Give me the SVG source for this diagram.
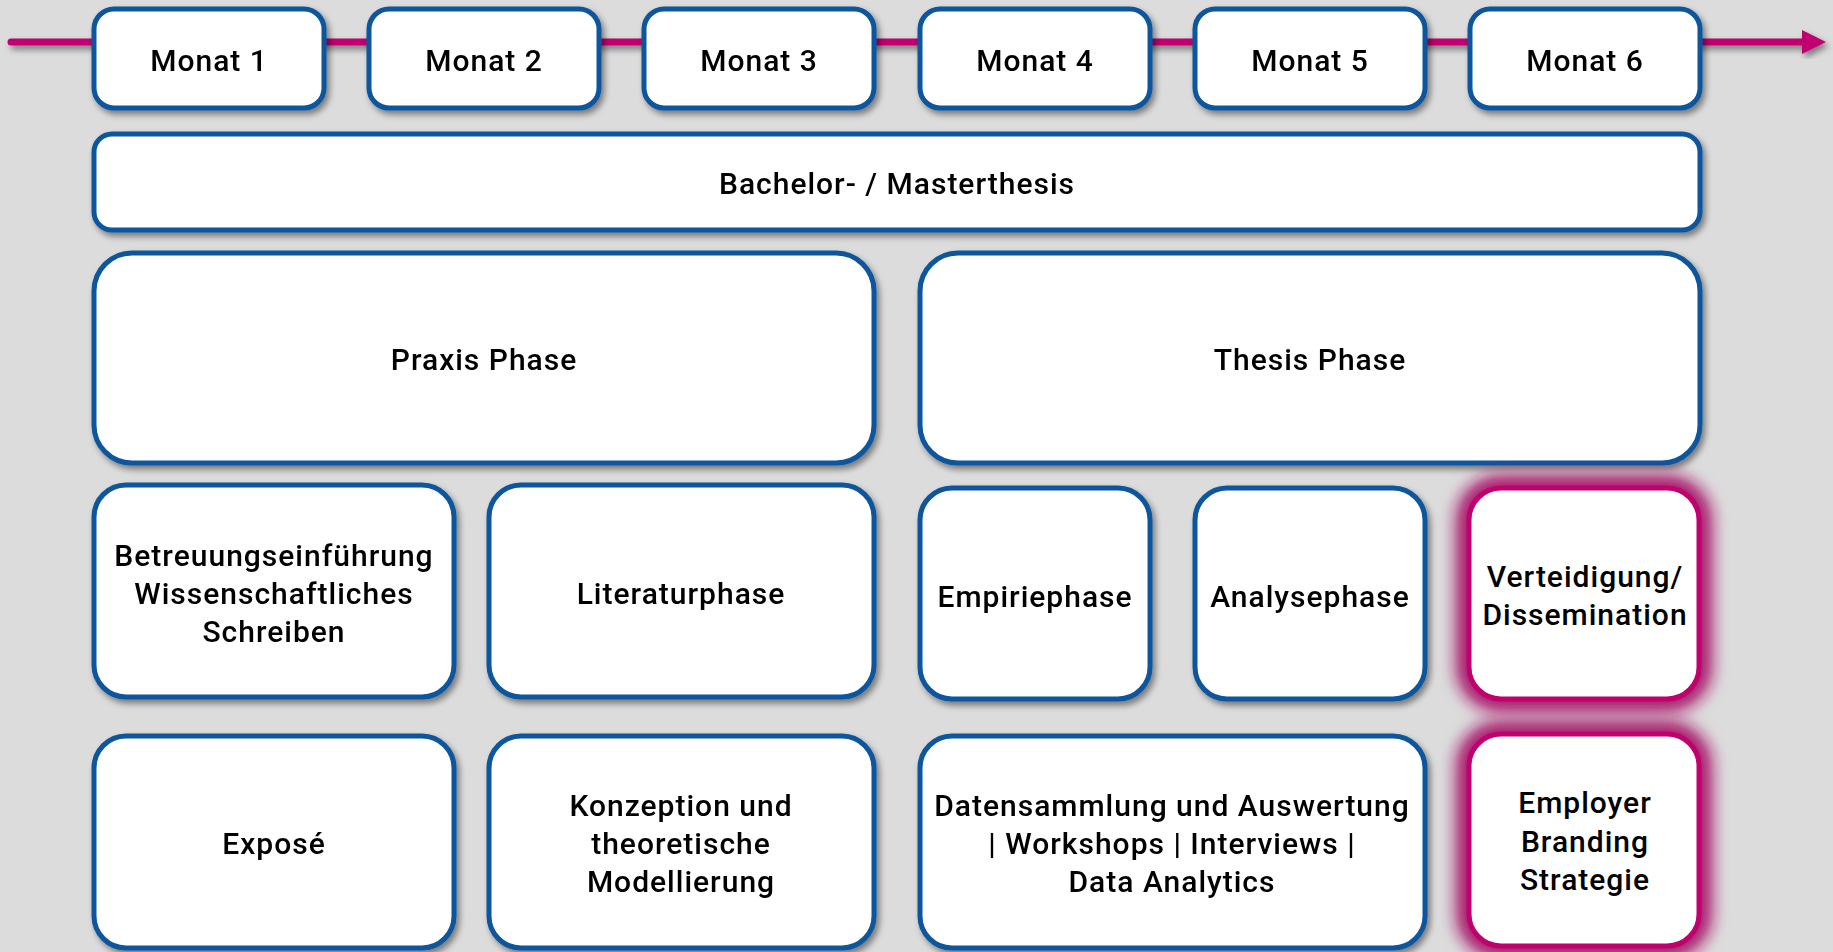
<svg xmlns="http://www.w3.org/2000/svg" width="1833" height="952" viewBox="0 0 1833 952">
<defs>
<filter id="sh" x="-10%" y="-10%" width="125%" height="130%">
<feDropShadow dx="3" dy="4" stdDeviation="3" flood-color="#000" flood-opacity="0.45"/>
</filter>
<filter id="glow" x="-30%" y="-30%" width="160%" height="160%">
<feGaussianBlur stdDeviation="8"/>
</filter>
<style>
.b{fill:#fff;stroke:#0b569d;stroke-width:5}
.p{fill:#fff;stroke:#c0006f;stroke-width:5}
.g{fill:none;stroke:#a8126a;stroke-width:26}
text{font-family:Roboto,"Liberation Sans",sans-serif;font-size:30px;font-weight:500;fill:#000;text-anchor:middle;letter-spacing:1px}
</style>
</defs>
<rect width="1833" height="952" fill="#dcdcdc"/>
<g id="connectors" filter="url(#sh)">
<line x1="11" y1="42" x2="1804" y2="42" stroke="#c0006f" stroke-width="7" stroke-linecap="round"/>
<polygon points="1802,30 1826,42 1802,54" fill="#c0006f"/>
</g>
<g id="m1" filter="url(#sh)"><rect class="b" x="94" y="9" width="230" height="99" rx="20"/><text x="209" y="71">Monat 1</text></g>
<g id="m2" filter="url(#sh)"><rect class="b" x="369" y="9" width="230" height="99" rx="20"/><text x="484" y="71">Monat 2</text></g>
<g id="m3" filter="url(#sh)"><rect class="b" x="644" y="9" width="230" height="99" rx="20"/><text x="759" y="71">Monat 3</text></g>
<g id="m4" filter="url(#sh)"><rect class="b" x="920" y="9" width="230" height="99" rx="20"/><text x="1035" y="71">Monat 4</text></g>
<g id="m5" filter="url(#sh)"><rect class="b" x="1195" y="9" width="230" height="99" rx="20"/><text x="1310" y="71">Monat 5</text></g>
<g id="m6" filter="url(#sh)"><rect class="b" x="1470" y="9" width="230" height="99" rx="20"/><text x="1585" y="71">Monat 6</text></g>
<g id="thesis" filter="url(#sh)"><rect class="b" x="94" y="134" width="1606" height="96" rx="18"/><text x="897" y="194">Bachelor- / Masterthesis</text></g>
<g id="praxis" filter="url(#sh)"><rect class="b" x="94" y="253" width="780" height="210" rx="38"/><text x="484" y="370">Praxis Phase</text></g>
<g id="thesisphase" filter="url(#sh)"><rect class="b" x="920" y="253" width="780" height="210" rx="38"/><text x="1310" y="370">Thesis Phase</text></g>
<g id="betreuung" filter="url(#sh)"><rect class="b" x="94" y="485" width="360" height="212" rx="32"/><text x="274" y="566">Betreuungseinführung</text><text x="274" y="604">Wissenschaftliches</text><text x="274" y="642">Schreiben</text></g>
<g id="literatur" filter="url(#sh)"><rect class="b" x="489" y="485" width="385" height="212" rx="32"/><text x="681" y="604">Literaturphase</text></g>
<g id="empirie" filter="url(#sh)"><rect class="b" x="920" y="488" width="230" height="211" rx="32"/><text x="1035" y="607">Empiriephase</text></g>
<g id="analyse" filter="url(#sh)"><rect class="b" x="1195" y="488" width="230" height="211" rx="32"/><text x="1310" y="607">Analysephase</text></g>
<g id="verteidigung"><rect class="g" x="1469" y="488" width="230" height="211" rx="32" filter="url(#glow)"/><rect class="p" x="1469" y="488" width="230" height="211" rx="32"/><text x="1585" y="587">Verteidigung/</text><text x="1585" y="625">Dissemination</text></g>
<g id="expose" filter="url(#sh)"><rect class="b" x="94" y="736" width="360" height="212" rx="32"/><text x="274" y="854">Exposé</text></g>
<g id="konzeption" filter="url(#sh)"><rect class="b" x="489" y="736" width="385" height="212" rx="32"/><text x="681" y="816">Konzeption und</text><text x="681" y="854">theoretische</text><text x="681" y="892">Modellierung</text></g>
<g id="daten" filter="url(#sh)"><rect class="b" x="920" y="736" width="505" height="212" rx="32"/><text x="1172" y="816">Datensammlung und Auswertung</text><text x="1172" y="854">| Workshops | Interviews |</text><text x="1172" y="892">Data Analytics</text></g>
<g id="employer"><rect class="g" x="1469" y="734" width="230" height="212" rx="32" filter="url(#glow)"/><rect class="p" x="1469" y="734" width="230" height="212" rx="32"/><text x="1585" y="813">Employer</text><text x="1585" y="852">Branding</text><text x="1585" y="890">Strategie</text></g>
</svg>
